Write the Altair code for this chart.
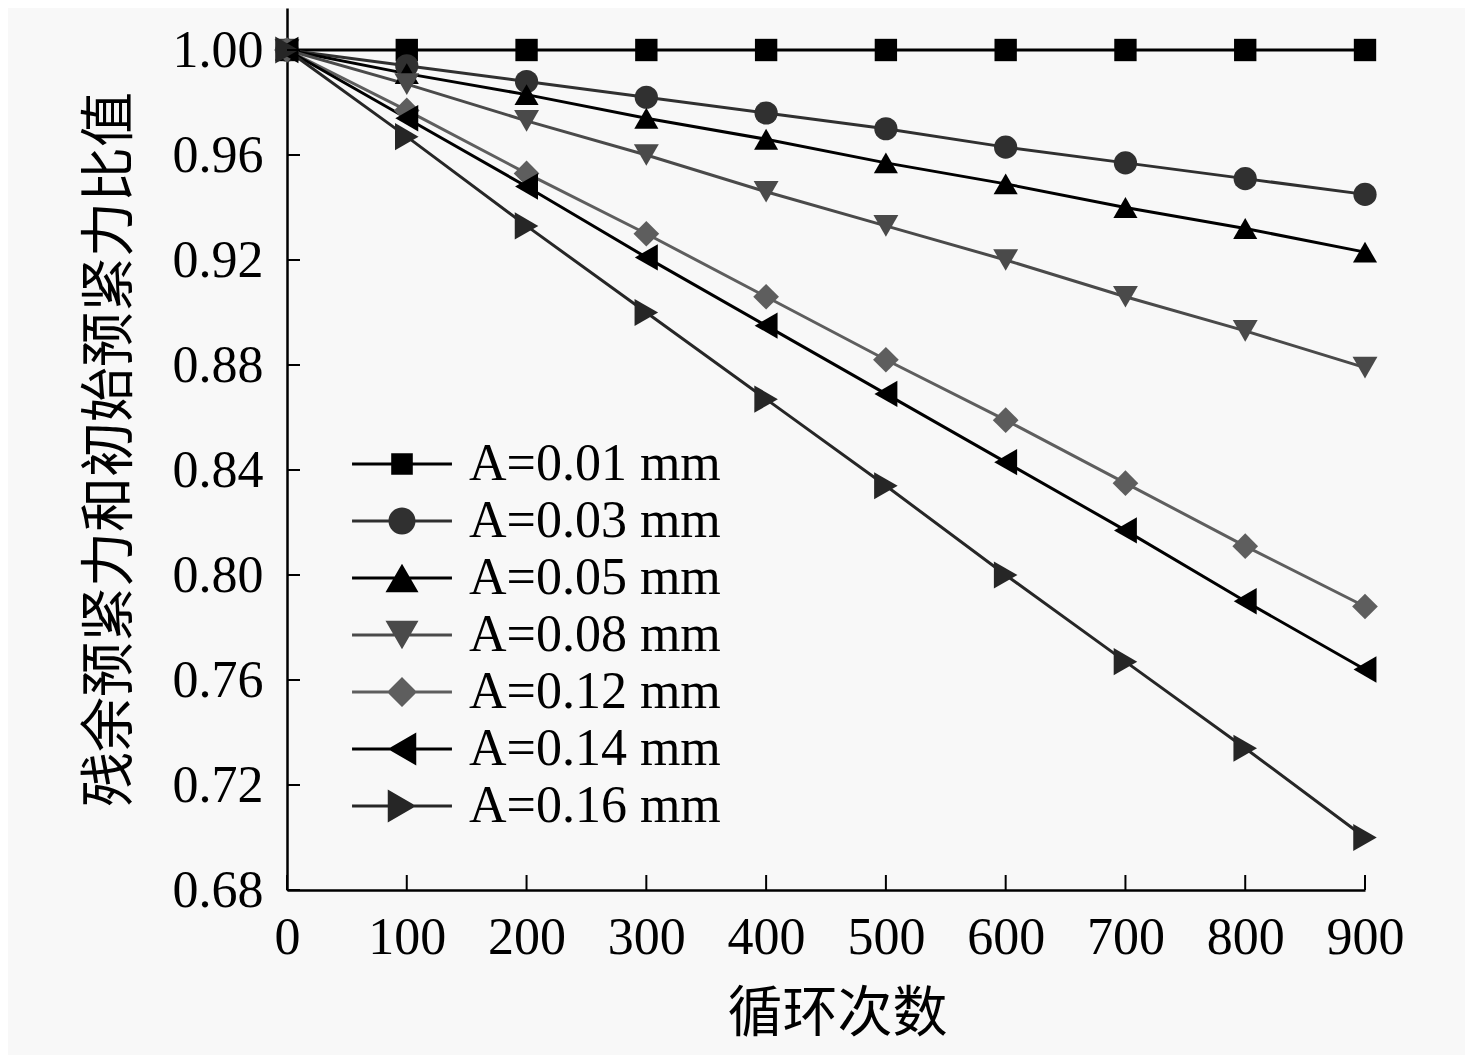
import altair as alt
import pandas as pd

# ---- data ----
CYCLES = [0, 100, 200, 300, 400, 500, 600, 700, 800, 900]
SERIES = ["A=0.01 mm", "A=0.03 mm", "A=0.05 mm", "A=0.08 mm",
          "A=0.12 mm", "A=0.14 mm", "A=0.16 mm"]
A001 = [1.000, 1.000, 1.000, 1.000, 1.000, 1.000, 1.000, 1.000, 1.000, 1.000]
A003 = [1.000, 0.994, 0.988, 0.982, 0.976, 0.970, 0.963, 0.957, 0.951, 0.945]
A005 = [1.000, 0.991, 0.983, 0.974, 0.966, 0.957, 0.949, 0.940, 0.932, 0.923]
A008 = [1.000, 0.987, 0.973, 0.960, 0.946, 0.933, 0.920, 0.906, 0.893, 0.879]
A012 = [1.000, 0.977, 0.953, 0.930, 0.906, 0.882, 0.859, 0.835, 0.811, 0.788]
A014 = [1.000, 0.974, 0.948, 0.921, 0.895, 0.869, 0.843, 0.817, 0.790, 0.764]
A016 = [1.000, 0.967, 0.933, 0.900, 0.867, 0.834, 0.800, 0.767, 0.734, 0.700]
VALUES = [A001, A003, A005, A008, A012, A014, A016]

X_TICKS = [0, 100, 200, 300, 400, 500, 600, 700, 800, 900]
Y_TICKS = [0.68, 0.72, 0.76, 0.80, 0.84, 0.88, 0.92, 0.96, 1.00]

X_TITLE = "循环次数"
Y_TITLE = "残余预紧力和初始预紧力比值"

# ---- styles ----
COLORS = ["#000000", "#303030", "#000000", "#4a4a4a", "#5e5e5e", "#000000", "#262626"]
SHAPES = ["square", "circle", "triangle-up", "triangle-down", "diamond",
          "triangle-left", "triangle-right"]
SIZES = [500, 740, 1100, 1100, 900, 1100, 1100]

LINE = "M-3.33,-0.1 L3.33,-0.1 L3.33,0.1 L-3.33,0.1 Z "
LEG_SHAPES = [
    LINE + "M-0.72,-0.72 L0.72,-0.72 L0.72,0.72 L-0.72,0.72 Z",
    LINE + "M0.9,0 A0.9,0.9 0 1,1 -0.9,0 A0.9,0.9 0 1,1 0.9,0 Z",
    LINE + "M0,-0.95 L1.1,0.95 L-1.1,0.95 Z",
    LINE + "M-1.1,-0.95 L1.1,-0.95 L0,0.95 Z",
    LINE + "M0,-1 L1,0 L0,1 L-1,0 Z",
    LINE + "M0.95,-1.1 L0.95,1.1 L-0.95,0 Z",
    LINE + "M-0.95,-1.1 L0.95,0 L-0.95,1.1 Z",
]

rows = []
for name, vals in zip(SERIES, VALUES):
    for c, v in zip(CYCLES, vals):
        rows.append({"cycles": c, "ratio": v, "series": name})
df = pd.DataFrame(rows)

W, H = 1078, 882
SERIF = "Liberation Serif"
CJK = "Noto Sans CJK SC"

x_enc = alt.X("cycles:Q", scale=alt.Scale(domain=[0, 900], nice=False, zero=False),
              axis=alt.Axis(values=X_TICKS, format="d", title=X_TITLE,
                            labelPadding=22, titlePadding=24, titleX=550,
                            labelFlush=False, labelOverlap=False))
y_enc = alt.Y("ratio:Q", scale=alt.Scale(domain=[0.68, 1.016], nice=False, zero=False),
              axis=alt.Axis(values=Y_TICKS, format=".2f", title=Y_TITLE,
                            labelPadding=24, titlePadding=34, labelFlush=False,
                            labelOverlap=False))

color_sc = alt.Scale(domain=SERIES, range=COLORS)

lines = alt.Chart(df).mark_line(strokeWidth=3).encode(
    x=x_enc, y=y_enc,
    color=alt.Color("series:N", scale=color_sc, legend=None),
    detail="series:N",
)

points = alt.Chart(df).mark_point(filled=True, opacity=1, strokeWidth=0).encode(
    x="cycles:Q", y="ratio:Q",
    color=alt.Color("series:N", scale=color_sc, legend=None),
    shape=alt.Shape("series:N", scale=alt.Scale(domain=SERIES, range=SHAPES), legend=None),
    size=alt.Size("series:N", scale=alt.Scale(domain=SERIES, range=SIZES), legend=None),
)

leg = alt.Legend(
    title=None, orient="none", legendX=89, legendY=430,
    labelFont=SERIF, labelFontSize=52, labelColor="#000000", labelLimit=600,
    labelOffset=41, symbolSize=900, symbolStrokeWidth=0, rowPadding=5,
    symbolOpacity=1,
)
legend_layer = alt.Chart(df).mark_point(filled=True, opacity=1).encode(
    x="cycles:Q", y="ratio:Q",
    color=alt.Color("series:N", scale=color_sc, legend=leg),
    shape=alt.Shape("series:N", scale=alt.Scale(domain=SERIES, range=LEG_SHAPES), legend=leg),
).transform_filter(alt.datum.cycles < 0)

xt = pd.DataFrame({"cycles": X_TICKS})
yt = pd.DataFrame({"ratio": Y_TICKS})
xticks = alt.Chart(xt).mark_rule(color="#000000", strokeWidth=2).encode(
    x="cycles:Q", y=alt.value(H), y2=alt.value(H - 15))
yticks = alt.Chart(yt).mark_rule(color="#000000", strokeWidth=2).encode(
    y="ratio:Q", x=alt.value(0), x2=alt.value(13))

chart = alt.layer(lines, points, legend_layer, xticks, yticks).resolve_scale(
    color="independent", shape="independent"
).properties(
    width=W, height=H,
    autosize=alt.AutoSizeParams(type="none"),
    padding={"left": 279, "top": 0, "right": 100, "bottom": 165},
    background="#f8f8f8",
).configure_view(stroke=None).configure_axis(
    grid=False, ticks=False, tickSize=0,
    domainColor="#000000", domainWidth=2.5,
    labelFont=SERIF, labelFontSize=52, labelColor="#000000",
    titleFont=CJK, titleFontSize=55, titleFontWeight="normal", titleColor="#000000",
)

chart.save("out.html", embed_options={"renderer": "svg", "actions": False})
